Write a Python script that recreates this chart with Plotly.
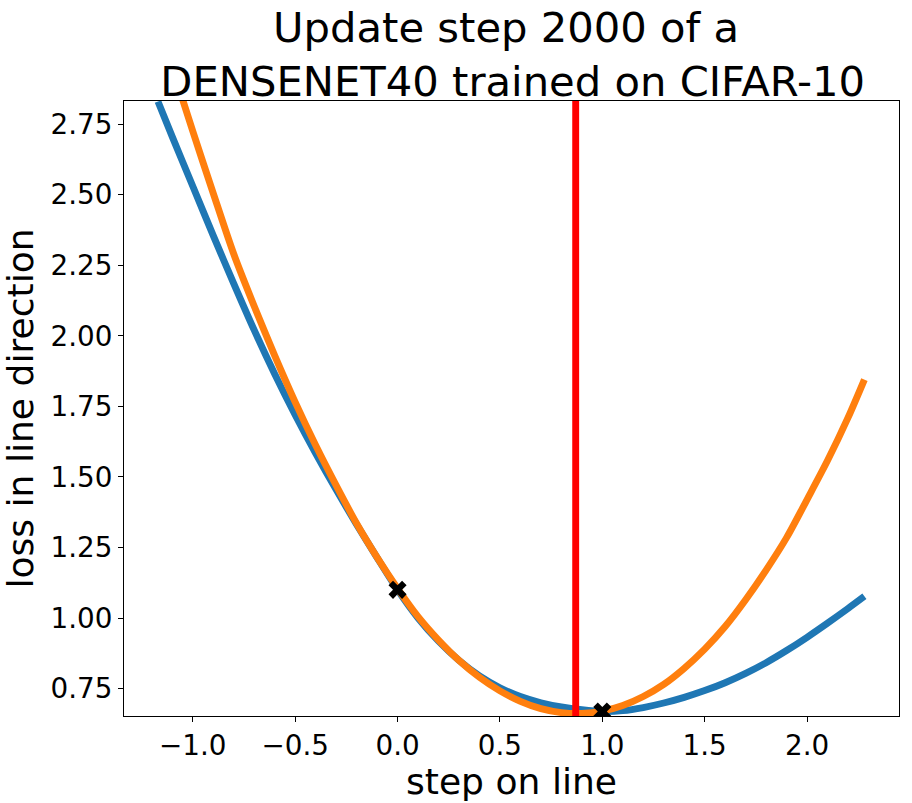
import plotly.graph_objects as go

# step along the line direction (shared grid for both curves)
steps = [-1.17, -1.1, -1.0, -0.9, -0.8, -0.7, -0.6, -0.5, -0.4, -0.3, -0.2, -0.1,
         0.0, 0.1, 0.2, 0.3, 0.4, 0.5, 0.6, 0.7, 0.8, 0.9, 1.0, 1.1, 1.2, 1.3,
         1.4, 1.5, 1.6, 1.7, 1.8, 1.9, 2.0, 2.1, 2.2, 2.28]

# measured loss along the line (blue)
loss_line = [2.83, 2.705, 2.53, 2.355, 2.185, 2.02, 1.865, 1.72, 1.584, 1.455, 1.332, 1.214,
             1.10, 1.00, 0.918, 0.850, 0.795, 0.753, 0.722, 0.700, 0.685, 0.675, 0.669, 0.672,
             0.683, 0.699, 0.719, 0.743, 0.771, 0.804, 0.842, 0.885, 0.932, 0.982, 1.034, 1.077]

# parabolic approximation (orange)
loss_parabola = [3.117, 2.952, 2.725, 2.505, 2.29, 2.105, 1.93, 1.765, 1.612, 1.470, 1.335, 1.215,
                 1.105, 1.005, 0.922, 0.850, 0.790, 0.742, 0.705, 0.679, 0.665, 0.662, 0.670, 0.690,
                 0.722, 0.765, 0.822, 0.890, 0.970, 1.065, 1.170, 1.285, 1.420, 1.558, 1.710, 1.845]

# measured points
point_steps = [0.0, 1.0]
point_losses = [1.10, 0.669]

# step chosen by the update rule (red line)
chosen_step = 0.87

x_ticks = [-1.0, -0.5, 0.0, 0.5, 1.0, 1.5, 2.0]
x_tick_text = ['\u22121.0', '\u22120.5', '0.0', '0.5', '1.0', '1.5', '2.0']
y_ticks = [0.75, 1.0, 1.25, 1.5, 1.75, 2.0, 2.25, 2.5, 2.75]
y_tick_text = ['0.75', '1.00', '1.25', '1.50', '1.75', '2.00', '2.25', '2.50', '2.75']

font = 'DejaVu Sans'

fig = go.Figure()
fig.add_trace(go.Scatter(x=steps, y=loss_line, mode='lines',
                         line=dict(color='#1f77b4', width=6.9, shape='spline', smoothing=0.8)))
fig.add_trace(go.Scatter(x=steps, y=loss_parabola, mode='lines',
                         line=dict(color='#ff7f0e', width=6.9, shape='spline', smoothing=0.8)))
fig.add_trace(go.Scatter(x=point_steps, y=point_losses, mode='markers',
                         marker=dict(symbol='x', size=16, color='black',
                                     line=dict(width=0))))
fig.add_vline(x=chosen_step, line=dict(color='red', width=6.9))

fig.update_layout(
    width=912, height=803,
    showlegend=False,
    plot_bgcolor='white', paper_bgcolor='white',
    margin=dict(l=124, r=13, t=101, b=87),
    font=dict(family=font, color='black'),
    title=dict(text='Update step 2000 of a\u00a0<br>DENSENET40 trained on CIFAR-10',
               x=0.5622, xanchor='center', xref='container',
               y=1 - 42 / 803, yanchor='middle', yref='container',
               font=dict(size=41.7, family=font, color='black')),
)
fig.update_xaxes(range=[-1.336, 2.449], tickvals=x_ticks, ticktext=x_tick_text,
                 automargin=False,
                 showgrid=False, zeroline=False, showline=True, mirror=True,
                 linecolor='black', linewidth=1.1, ticks='outside', ticklen=5,
                 tickwidth=1.1, tickcolor='black',
                 tickfont=dict(size=27.8, family=font, color='black'),
                 title=dict(text='step on line', standoff=0,
                            font=dict(size=36.1, family=font, color='black')))
fig.update_yaxes(range=[0.653, 2.832], tickvals=y_ticks, ticktext=y_tick_text,
                 automargin=False,
                 showgrid=False, zeroline=False, showline=True, mirror=True,
                 linecolor='black', linewidth=1.1, ticks='outside', ticklen=5,
                 tickwidth=1.1, tickcolor='black',
                 tickfont=dict(size=27.8, family=font, color='black'),
                 title=dict(text='loss in line direction', standoff=8,
                            font=dict(size=36.1, family=font, color='black')))

# the page's default body margin would shift the figure by 8px
fig.write_html("out.html", config={'displayModeBar': False},
               post_script="document.body.style.margin='0';")
